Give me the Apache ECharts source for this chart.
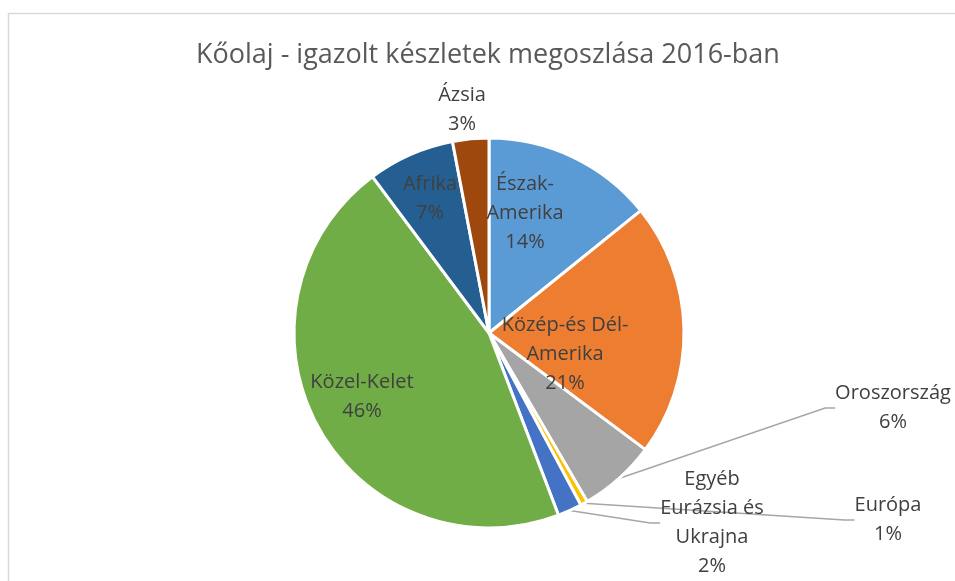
<!DOCTYPE html>
<html>
<head>
<meta charset="utf-8">
<script src="https://cdn.jsdelivr.net/npm/echarts@6/dist/echarts.min.js"></script>
<style>
html, body { margin: 0; padding: 0; background: #fff; }
#chart { width: 955px; height: 581px; }
</style>
</head>
<body>
<div id="chart"></div>
<script>
// régiók az óramutató járásával, felülről indulva
const regions = ['Észak-\nAmerika', 'Közép-és Dél-\nAmerika', 'Oroszország', 'Európa',
    'Egyéb\nEurázsia és\nUkrajna', 'Közel-Kelet', 'Afrika', 'Ázsia'];
const shares = [14.2, 21.0, 6.4, 0.6, 2.0, 45.6, 7.2, 3.0];
const colors = ['#5B9BD5', '#ED7D31', '#A5A5A5', '#FFC000', '#4472C4', '#70AD47', '#255E91', '#9E480E'];
const outside = [false, false, true, true, true, false, false, true];

// címkék helye (Excel-szerű elrendezés)
const labelPos = [
    [525, 213], [565, 354], [893, 408], [888, 520],
    [712, 523], [362, 397], [430, 199], [462, 110]
];

const chart = echarts.init(document.getElementById('chart'));
chart.setOption({
    backgroundColor: '#fff',
    animation: false,
    title: {
        text: 'Kőolaj - igazolt készletek megoszlása 2016-ban',
        left: 191,
        top: 37,
        textStyle: {
            fontFamily: 'Open Sans',
            fontWeight: 'normal',
            fontSize: 27,
            color: '#595959'
        }
    },
    graphic: [{
        type: 'rect',
        shape: { x: 8.5, y: 13.5, width: 1200, height: 1000 },
        style: { fill: 'none', stroke: '#d9d9d9', lineWidth: 1.5 },
        silent: true
    }],
    series: [{
        type: 'pie',
        center: [489, 333],
        radius: [0, 195],
        startAngle: 90,
        clockwise: true,
        avoidLabelOverlap: false,
        itemStyle: { borderColor: '#fff', borderWidth: 3 },
        data: regions.map((name, i) => ({
            name: name,
            value: shares[i],
            itemStyle: { color: colors[i] },
            label: { position: outside[i] ? 'outside' : 'inside' },
            labelLine: { show: outside[i] && i !== 7 }
        })),
        label: {
            formatter: p => p.name + '\n' + Math.round(p.percent) + '%',
            fontFamily: 'Open Sans',
            fontSize: 20,
            lineHeight: 29,
            color: '#404040',
            align: 'center'
        },
        labelLine: {
            length: 10,
            length2: 10,
            lineStyle: { color: '#a6a6a6', width: 1.5 }
        },
        labelLayout: function (params) {
            const p = labelPos[params.dataIndex];
            return { x: p[0], y: p[1], align: 'center', verticalAlign: 'middle' };
        }
    }]
});
</script>
</body>
</html>
